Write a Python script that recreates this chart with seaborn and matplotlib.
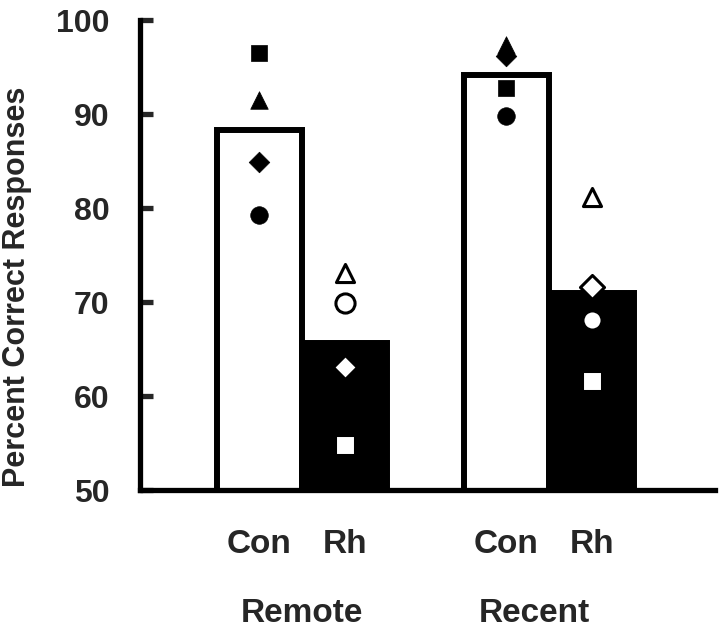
import matplotlib
matplotlib.use('Agg')
import matplotlib.pyplot as plt
import seaborn as sns
import pandas as pd
from matplotlib.transforms import ScaledTranslation, blended_transform_factory

# ---- data ----
delays = ['Remote', 'Recent']
groups = ['Con', 'Rh']
remote_means = [88.3, 65.6]
recent_means = [94.1, 71.0]
subjects = ['S1', 'S2', 'S3', 'S4']
subject_markers = ['s', '^', 'D', 'o']
remote_con = [96.5, 91.5, 84.9, 79.3]
remote_rh = [54.8, 73.1, 63.1, 69.9]
recent_con = [92.8, 97.3, 96.2, 89.8]
recent_rh = [61.6, 81.2, 71.6, 68.1]
yticks = [50, 60, 70, 80, 90, 100]

sns.set_style('white')
plt.rcParams['font.family'] = ['Liberation Sans', 'DejaVu Sans']
plt.rcParams['font.weight'] = 'bold'

bars = pd.DataFrame({
    'Delay': ['Remote', 'Remote', 'Recent', 'Recent'],
    'Group': groups + groups,
    'Value': remote_means + recent_means,
})

rows = []
for d, g, vals in [('Remote', 'Con', remote_con), ('Remote', 'Rh', remote_rh),
                   ('Recent', 'Con', recent_con), ('Recent', 'Rh', recent_rh)]:
    for s, v in zip(subjects, vals):
        rows.append({'Delay': d, 'Group': g, 'Subject': s, 'Value': v})
pts = pd.DataFrame(rows)

BW = 0.69
pts['x'] = [delays.index(d) + (-BW / 4 if g == 'Con' else BW / 4)
            for d, g in zip(pts['Delay'], pts['Group'])]

fig = plt.figure(figsize=(7.2, 6.3), dpi=100)
ax = fig.add_axes([140 / 720, 140 / 630, 575 / 720, 470 / 630])

sns.barplot(data=bars, x='Delay', y='Value', hue='Group', order=delays,
            hue_order=groups, palette={'Con': 'white', 'Rh': 'black'},
            edgecolor='black', linewidth=4.3, width=BW, errorbar=None,
            legend=False, ax=ax)

sizes = {'s': 130, '^': 160, 'D': 110, 'o': 160}
rh_sizes = {'s': 190, '^': 170, 'D': 150, 'o': 190}
draw_order = [2, 0, 3, 1]  # diamond, square, circle, triangle (triangle on top)
for k in draw_order:
    s, m = subjects[k], subject_markers[k]
    sub = pts[(pts['Subject'] == s) & (pts['Group'] == 'Con')]
    sns.scatterplot(data=sub, x='x', y='Value', marker=m, s=sizes[m],
                    color='black', edgecolor='black', linewidth=0.5,
                    zorder=3, legend=False, ax=ax)
    sub = pts[(pts['Subject'] == s) & (pts['Group'] == 'Rh')]
    sns.scatterplot(data=sub, x='x', y='Value', marker=m, s=rh_sizes[m],
                    color='white', edgecolor='black', linewidth=2.2,
                    zorder=3, legend=False, ax=ax)

ax.set_xlim(-0.656, 1.672)
ax.set_ylim(50, 100)
ax.set_yticks(yticks)
ax.set_yticklabels([str(t) for t in yticks], fontsize=23, fontweight='bold')

xpos = [i + off for i in range(len(delays)) for off in (-BW / 4, BW / 4)]
ax.set_xticks(xpos)
ax.set_xticklabels(groups * 2, fontsize=24, fontweight='bold')
shifts = [-4, -7, -11, -15]
for lab, sh in zip(ax.get_xticklabels(), shifts):
    lab.set_transform(lab.get_transform() + ScaledTranslation(sh / 100, 0, fig.dpi_scale_trans))

ax.tick_params(axis='y', direction='in', length=9, width=3.8, pad=22, left=True)
ax.tick_params(axis='x', length=0, pad=28)

trans = blended_transform_factory(ax.transData, ax.transAxes)
for i, (d, off) in enumerate(zip(delays, [0, -0.06])):
    ax.text(i + off, -0.262, d, transform=trans, ha='center', va='center',
            fontsize=24, fontweight='bold')

ax.set_xlabel('')
ax.set_ylabel('Percent Correct Responses', fontsize=22, fontweight='bold')
ax.yaxis.set_label_coords(-0.187, 0.432)

for side in ['top', 'right']:
    ax.spines[side].set_visible(False)
for side in ['left', 'bottom']:
    ax.spines[side].set_linewidth(3.8)
    ax.spines[side].set_color('black')

fig.savefig('out.png', dpi=100, facecolor='white')
